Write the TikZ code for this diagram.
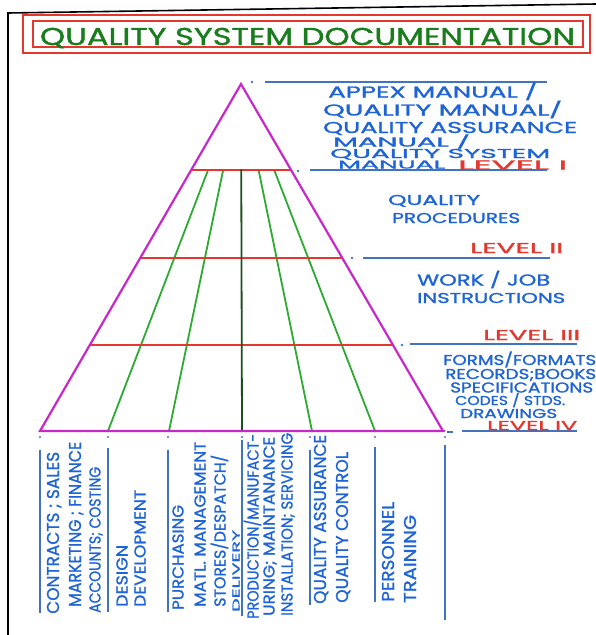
\documentclass[tikz,border=0pt]{standalone}
\usepackage{fontspec}
\setmainfont{Poppins}
\newfontfamily\hand{Poppins}[FakeBold=1.2]
\usetikzlibrary{calc}
\definecolor{inkblue}{RGB}{30,100,215}
\definecolor{ruleblue}{RGB}{65,115,195}
\definecolor{inkred}{RGB}{228,55,45}
\definecolor{inkmag}{RGB}{200,40,200}
\definecolor{inkgreen}{RGB}{45,170,50}
\definecolor{darkgreen}{RGB}{30,80,30}
\definecolor{titlegreen}{RGB}{25,125,30}
% squeeze or stretch a line of lettering into a box of given width and cap height
\newcommand{\fitbox}[3]{\resizebox{#1pt}{#2pt}{\hand\raisebox{0pt}[\fontcharht\font`H][0pt]{#3}}}

\begin{document}
\begin{tikzpicture}[x=1pt,y=-1pt,
  lbl/.style={inner sep=0pt,anchor=west,text=inkblue},
  lvl/.style={inner sep=0pt,anchor=west,text=inkred},
  vlbl/.style={inner sep=0pt,anchor=west,rotate=90,text=inkblue},
  pyr/.style={draw=inkmag,line width=2.2pt,line join=miter},
  band/.style={draw=inkred,line width=1.5pt},
  ray/.style={draw=inkgreen,line width=1.8pt},
  midray/.style={draw=darkgreen,line width=1.8pt},
  guide/.style={draw=ruleblue,line width=1.6pt},
  speck/.style={fill=#1,draw=none,circle,inner sep=0pt,minimum size=2.6pt},
  frame/.style={draw=black,line width=1.6pt},
  titlebox/.style={draw=inkred,line width=1.1pt},
]
\useasboundingbox (0,0) rectangle (596,635);
\fill[white] (0,0) rectangle (596,635);

% page border
\coordinate (pgTL) at (8,13);
\coordinate (pgBL) at (8,635);
\coordinate (pgTR) at (596,4);
\draw[frame] (pgBL) -- (pgTL) -- (pgTR);

% title with double red frame
\draw[titlebox] (23,15) rectangle (590,53);
\draw[titlebox] (33,21) rectangle (583,47);
\node[inner sep=0pt,text=titlegreen] (title) at (307.5,36.5)
  {\fitbox{535}{17}{QUALITY SYSTEM DOCUMENTATION}};

% pyramid corners and ray feet
\coordinate (apex) at (241,84);
\coordinate (bl) at (40,431);
\coordinate (br) at (443,431);
\coordinate (g1) at (108,431);
\coordinate (g2) at (169,431);
\coordinate (g3) at (242,431);
\coordinate (g4) at (312,431);
\coordinate (g5) at (375,431);

% departmental rays from level I down to the base
\foreach \g in {g1,g2,g4,g5}
  \draw[ray] ($(apex)!0.248!(\g)$) -- (\g);
\draw[midray] ($(apex)!0.248!(g3)$) -- (g3);

% level bands
\foreach \t in {0.248,0.501,0.752}
  \draw[band] ($(apex)!\t!(bl)$) -- ($(apex)!\t!(br)$);

% ink dots where the rays meet base and bands
\foreach \g in {g1,g2,g3,g4,g5}
  \fill[darkgreen] (\g) circle (1.3pt);
\foreach \t in {0.248,0.501,0.752}
  \fill[darkgreen] ($(apex)!\t!(g3)$) circle (1.2pt);

\draw[pyr] (bl) -- (apex) -- (br) -- cycle;
\draw[pyr] (br) -- (445,431);

% guide lines to the right of each level
\node[speck=ruleblue] (k0) at (252,82) {};
\coordinate (h0a) at (265,82); \coordinate (h0b) at (547,82);
\draw[guide] (h0a) -- (h0b);
\node[speck=ruleblue] (k1) at (298,171) {};
\coordinate (h1a) at (310,170); \coordinate (h1b) at (547,170);
\draw[guide] (h1a) -- (h1b);
\node[speck=ruleblue] (k2) at (352,258) {};
\coordinate (h2a) at (363,258); \coordinate (h2b) at (550,258);
\draw[guide] (h2a) -- (h2b);
\node[speck=ruleblue] (k3) at (402,345) {};
\coordinate (h3a) at (410,344); \coordinate (h3b) at (577,344);
\draw[guide] (h3a) -- (h3b);
\coordinate (k4a) at (447,432); \coordinate (k4b) at (453,432);
\draw[guide] (k4a) -- (k4b);
\coordinate (h4a) at (462,431); \coordinate (h4b) at (577,431);
\draw[guide] (h4a) -- (h4b);

% level I text
\node[lbl] (t1a) at (328,92)  {\fitbox{209}{11}{APPEX MANUAL /}};
\node[lbl] (t1b) at (323,110) {\fitbox{239}{11}{QUALITY MANUAL/}};
\node[lbl] (t1c) at (323,127.5) {\fitbox{254}{11}{QUALITY ASSURANCE}};
\node[lbl] (t1d) at (333,142) {\fitbox{137}{9}{MANUAL /}};
\node[lbl] (t1e) at (330,153.5) {\fitbox{220}{9}{QUALITY SYSTEM}};
\node[lbl] (t1f) at (338,164.5) {\fitbox{107}{8}{MANUAL}};
\node[lvl] (L1)  at (458,165) {\fitbox{109}{9}{LEVEL I}};

% level II text
\node[lbl] (t2a) at (388,200) {\fitbox{92}{10}{QUALITY}};
\node[lbl] (t2b) at (392,218) {\fitbox{128}{10}{PROCEDURES}};
\node[lvl] (L2)  at (470,248) {\fitbox{93}{10}{LEVEL II}};

% level III text
\node[lbl] (t3a) at (417,280) {\fitbox{133}{11}{WORK / JOB}};
\node[lbl] (t3b) at (417,298) {\fitbox{148}{10}{INSTRUCTIONS}};
\node[lvl] (L3)  at (483,335) {\fitbox{97}{10}{LEVEL III}};

% level IV text
\node[lbl] (t4a) at (443,360) {\fitbox{153}{10}{FORMS/FORMATS}};
\node[lbl] (t4b) at (445,374) {\fitbox{151}{10}{RECORDS;BOOKS}};
\node[lbl] (t4c) at (450,387.5) {\fitbox{143}{10}{SPECIFICATIONS}};
\node[lbl] (t4d) at (455,400.5) {\fitbox{110}{9}{CODES / STDS.}};
\node[lbl] (t4e) at (460,413.5) {\fitbox{97}{9}{DRAWINGS}};
\node[lvl] (L4)  at (487,425.5) {\fitbox{90}{9}{LEVEL IV}};

% column dividers below the base
\foreach \x/\ya/\yb in {40/450/613,108/448/612,168/450/612,242/440/616,310/450/605,375/447/602,445/445/620}{
  \fill[ruleblue] (\x,437) circle (1.1pt);
  \draw[guide] (\x,\ya) -- (\x,\yb);
}

% departments, written upwards
\node[vlbl] (c1a) at (53,614)  {\fitbox{162}{12}{CONTRACTS ; SALES}};
\node[vlbl] (c1b) at (75,607)  {\fitbox{165}{12}{MARKETING ; FINANCE}};
\node[vlbl] (c1c) at (95,613)  {\fitbox{146}{11}{ACCOUNTS; COSTING}};

\node[vlbl] (c2a) at (122,607) {\fitbox{62}{11}{DESIGN}};
\node[vlbl] (c2b) at (140,607) {\fitbox{117}{11}{DEVELOPMENT}};

\node[vlbl] (c3a) at (178,610) {\fitbox{105}{11}{PURCHASING}};
\node[vlbl] (c3b) at (200,607) {\fitbox{165}{11}{MATL. MANAGEMENT}};
\node[vlbl] (c3c) at (220,607) {\fitbox{152}{11}{STORES/DESPATCH/}};
\node[vlbl] (c3d) at (236,612) {\fitbox{82}{7}{DELIVERY}};

\node[vlbl] (c4a) at (253,619) {\fitbox{185}{11}{PRODUCTION/MANUFACT-}};
\node[vlbl] (c4b) at (269,616) {\fitbox{179}{11}{URING; MAINTANANCE}};
\node[vlbl] (c4c) at (287,616) {\fitbox{183}{11}{INSTALLATION; SERVICING}};

\node[vlbl] (c5a) at (320,604) {\fitbox{169}{12}{QUALITY ASSURANCE}};
\node[vlbl] (c5b) at (342,603) {\fitbox{151}{12}{QUALITY CONTROL}};

\node[vlbl] (c6a) at (388,602) {\fitbox{100}{12}{PERSONNEL}};
\node[vlbl] (c6b) at (410,603) {\fitbox{88}{12}{TRAINING}};
\end{tikzpicture}
\end{document}
